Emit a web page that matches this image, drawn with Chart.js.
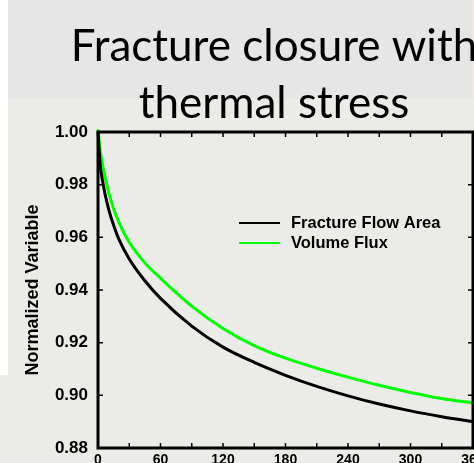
<!DOCTYPE html>
<html>
<head>
<meta charset="utf-8">
<script src="https://cdn.jsdelivr.net/npm/chart.js@4.4.1/dist/chart.umd.min.js"></script>
<style>
  html, body { margin: 0; padding: 0; overflow: hidden; background: #ebebe8; }
  #wrap { width: 474px; height: 463px; position: relative; }
</style>
</head>
<body>
<div id="wrap"><canvas id="chart"></canvas></div>
<script>
// Data (time vs normalized variable)
const times = [0, 2, 5, 10, 15, 20, 30, 45, 60, 90, 120, 150, 180, 210, 240, 270, 300, 330, 360];
const flowArea = [1.000, 0.988, 0.980, 0.971, 0.9646, 0.9593, 0.9518, 0.9435, 0.9368, 0.9263, 0.9183, 0.9125, 0.9076, 0.9034, 0.8998, 0.8967, 0.8941, 0.8919, 0.8900];
const volumeFlux = [1.001, 0.9933, 0.9862, 0.9775, 0.9708, 0.9658, 0.9581, 0.9503, 0.9445, 0.9339, 0.9254, 0.9189, 0.9141, 0.9103, 0.9069, 0.9038, 0.9011, 0.8988, 0.8971];
const seriesNames = ['Fracture Flow Area', 'Volume Flux'];
const titleLines = ['Fracture closure with', 'thermal stress'];
const yLabel = 'Normalized Variable';

const boldFont = '"Liberation Sans", Arial, sans-serif';

// Slide-like background
const backgroundPlugin = {
  id: 'bg',
  beforeDraw(chart) {
    const ctx = chart.ctx;
    ctx.save();
    ctx.fillStyle = '#ebebe8';
    ctx.fillRect(0, 0, chart.width, chart.height);
    ctx.fillStyle = '#e6e6e6';
    ctx.fillRect(0, 0, chart.width, 98);
    ctx.fillStyle = '#ffffff';
    ctx.fillRect(0, 0, 8, 375);
    ctx.fillStyle = '#efe6e6';
    ctx.fillRect(chart.width - 2, 0, 2, 98);
    ctx.restore();
  }
};

// Big title, centred a bit right of the canvas
const titlePlugin = {
  id: 'bigTitle',
  afterDraw(chart) {
    const ctx = chart.ctx;
    ctx.save();
    ctx.fillStyle = '#000';
    ctx.font = '44px Lato, "Open Sans", sans-serif';
    ctx.textAlign = 'center';
    ctx.textBaseline = 'alphabetic';
    ctx.fillText(titleLines[0], 274, 61);
    ctx.fillText(titleLines[1], 274, 118);
    ctx.restore();
  }
};

// Box around the plot with inward ticks
const framePlugin = {
  id: 'frame',
  afterDatasetsDraw(chart) {
    const { ctx, chartArea: a, scales: { x, y } } = chart;
    ctx.save();
    ctx.strokeStyle = '#000';
    ctx.lineWidth = 1.5;
    for (let v = 0; v <= 360; v += 30) {
      const px = x.getPixelForValue(v);
      ctx.beginPath();
      ctx.moveTo(px, a.bottom); ctx.lineTo(px, a.bottom - 5);
      ctx.moveTo(px, a.top); ctx.lineTo(px, a.top + 5);
      ctx.stroke();
    }
    for (let i = 0; i <= 6; i++) {
      const py = y.getPixelForValue(0.88 + i * 0.02);
      ctx.beginPath();
      ctx.moveTo(a.left, py); ctx.lineTo(a.left + 5, py);
      ctx.moveTo(a.right, py); ctx.lineTo(a.right - 5, py);
      ctx.stroke();
    }
    ctx.lineWidth = 3;
    ctx.strokeRect(a.left, a.top, a.right - a.left, a.bottom - a.top);
    ctx.restore();
  }
};

// Legend drawn inside the plot area
const legendPlugin = {
  id: 'innerLegend',
  afterDraw(chart) {
    const ctx = chart.ctx;
    ctx.save();
    ctx.font = 'bold 16.5px ' + boldFont;
    ctx.textBaseline = 'middle';
    chart.data.datasets.forEach((ds, i) => {
      const ly = 223 + i * 20;
      ctx.strokeStyle = ds.borderColor;
      ctx.lineWidth = 2;
      ctx.beginPath();
      ctx.moveTo(239, ly); ctx.lineTo(280, ly);
      ctx.stroke();
      ctx.fillStyle = '#000';
      ctx.fillText(ds.label, 291, ly);
    });
    ctx.restore();
  }
};

new Chart(document.getElementById('chart'), {
  type: 'line',
  data: {
    datasets: [
      {
        label: seriesNames[0],
        data: times.map((t, i) => ({ x: t, y: flowArea[i] })),
        borderColor: '#000000',
        borderWidth: 3,
        pointRadius: 0,
        cubicInterpolationMode: 'monotone',
        clip: false
      },
      {
        label: seriesNames[1],
        data: times.map((t, i) => ({ x: t, y: volumeFlux[i] })),
        borderColor: '#00ff00',
        borderWidth: 3,
        pointRadius: 0,
        cubicInterpolationMode: 'monotone',
        clip: false
      }
    ]
  },
  options: {
    responsive: true,
    maintainAspectRatio: false,
    animation: false,
    layout: { padding: { top: 132, right: 1, left: 0, bottom: 0 } },
    plugins: {
      legend: { display: false },
      title: { display: false },
      tooltip: { enabled: false }
    },
    scales: {
      x: {
        type: 'linear',
        min: 0,
        max: 360,
        grid: { display: false, drawTicks: false },
        border: { display: false },
        ticks: {
          stepSize: 60,
          padding: 4,
          color: '#000',
          maxRotation: 0,
          font: { family: boldFont, size: 14, weight: 'bold' }
        },
        afterFit(scale) {
          scale.height = 15;
          scale.paddingLeft = 0;
          scale.paddingRight = 0;
        }
      },
      y: {
        min: 0.88,
        max: 1.00,
        grid: { display: false, drawTicks: false },
        border: { display: false },
        ticks: {
          stepSize: 0.02,
          padding: 10,
          color: '#000',
          font: { family: boldFont, size: 17, weight: 'bold' },
          callback: v => v.toFixed(2)
        },
        title: {
          display: true,
          text: yLabel,
          color: '#000',
          padding: { top: 22, bottom: 0 },
          font: { family: boldFont, size: 18, weight: 'bold' }
        },
        afterFit(scale) {
          scale.width = 98;
          scale.paddingTop = 0;
          scale.paddingBottom = 0;
        }
      }
    }
  },
  plugins: [backgroundPlugin, titlePlugin, framePlugin, legendPlugin]
});
</script>
</body>
</html>
